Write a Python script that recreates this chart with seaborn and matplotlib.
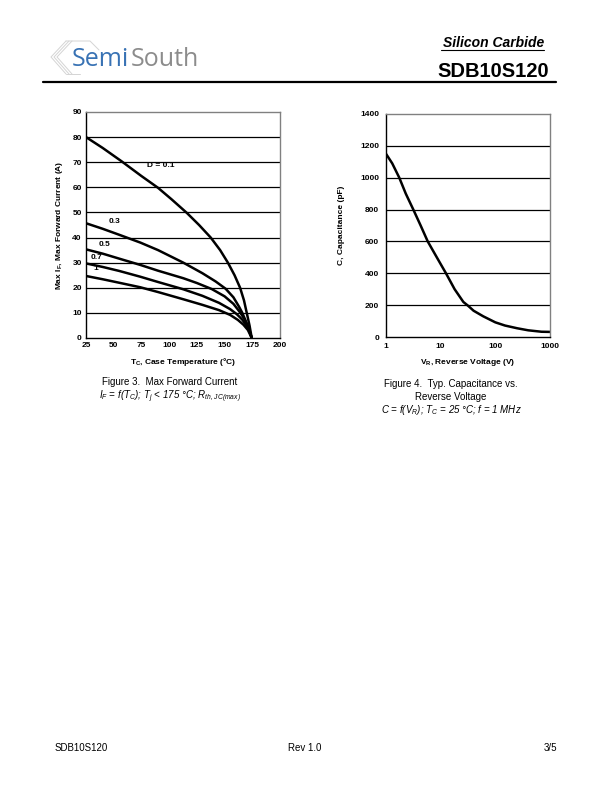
import numpy as np
import pandas as pd
import matplotlib
matplotlib.use("Agg")
import matplotlib.pyplot as plt
from matplotlib.lines import Line2D
import seaborn as sns

sns.set_style("white")
plt.rcParams['font.family'] = ['Liberation Sans', 'DejaVu Sans']
plt.rcParams['mathtext.default'] = 'regular'
plt.rcParams['text.color'] = 'black'
plt.rcParams['axes.labelcolor'] = 'black'
plt.rcParams['xtick.color'] = 'black'
plt.rcParams['ytick.color'] = 'black'

# Figure 3 data: max forward current vs case temperature, per duty cycle
t_d01 = [25, 40, 57, 75, 90, 102, 116, 127, 137.5, 146, 153, 159, 164, 167.5, 170, 172.5, 174.5]
i_d01 = [80, 75.7, 70.4, 64.5, 59.8, 55.3, 49.8, 45, 40, 35, 30, 25, 20, 15, 10, 5, 0]
t_d03 = [25, 40, 55, 74, 90, 112.8, 130, 142, 151, 158, 163, 166, 170, 174.5]
i_d03 = [45.7, 43.5, 41.1, 38, 35, 30, 25.8, 22.5, 19.6, 16.2, 12.5, 10, 5.8, 0]
t_d05 = [25, 40, 55, 74, 90, 112.8, 125, 138.4, 150, 158, 164, 168, 171.5, 174.5]
i_d05 = [35.3, 33.6, 31.6, 29.1, 26.8, 23.8, 21.9, 19.5, 16.6, 13.6, 10.2, 7.5, 4.3, 0]
t_d07 = [25, 40, 55, 74, 90, 112.8, 130, 145, 155, 161, 166, 170, 172.5, 174.5]
i_d07 = [29.7, 28.3, 26.7, 24.4, 22.3, 19.4, 16.8, 14, 11.5, 9.5, 7.3, 4.8, 2.8, 0]
t_d1 = [25, 40, 55, 74, 90, 113, 130, 145, 155, 162, 167, 171, 174.5]
i_d1 = [24.7, 23.4, 22, 20.2, 18.3, 15.4, 13.2, 11.1, 9.2, 7.2, 5.3, 3.2, 0]
duty_labels = ["D = 0.1", "0.3", "0.5", "0.7", "1"]

# Figure 4 data: capacitance vs reverse voltage
v_r = [1, 1.3, 1.75, 2.3, 3.16, 4.3, 5.8, 8.5, 12.5, 18, 26, 32, 40, 60, 100, 150, 250, 400, 700, 1000]
cap = [1150, 1090, 1000, 900, 800, 700, 600, 500, 400, 300, 220, 195, 165, 130, 92, 72, 55, 42, 33, 32]

fig = plt.figure(figsize=(6.12, 7.92), dpi=100)
W, H = 612, 792

def fx(px):
    return px / W

def fy(py):
    return 1 - py / H

# ---- header / logo ----
chev = '#d4d4d4'
for off in [0, 3, 6]:
    fig.add_artist(Line2D([fx(66 + off), fx(51 + off), fx(66 + off)],
                          [fy(41), fy(57), fy(74)], color=chev, lw=0.7))
fig.add_artist(Line2D([fx(66), fx(90), fx(99)], [fy(41), fy(41), fy(50)], color=chev, lw=0.7))
fig.add_artist(Line2D([fx(66), fx(80)], [fy(74), fy(74)], color=chev, lw=0.7))
renderer = fig.canvas.get_renderer()
semi = fig.text(fx(72), fy(66), "Semi", fontsize=18, color='#3872b4', family='Open Sans')
bb = semi.get_window_extent(renderer=renderer)
fig.text(bb.x1 / W + fx(1), fy(66), "South", fontsize=18, color='#8c8c8c', family='Open Sans')

fig.text(fx(544), fy(47), "Silicon Carbide", fontsize=10, fontweight='bold',
         style='italic', ha='right')
fig.add_artist(Line2D([fx(441), fx(544)], [fy(50), fy(50)], color='black', lw=0.8))
fig.text(fx(549), fy(77), "SDB10S120", fontsize=14.5, fontweight='bold', ha='right')
fig.add_artist(Line2D([fx(43), fx(556)], [fy(82), fy(82)], color='black', lw=1.6))

# ---- Figure 3 ----
ax1 = fig.add_axes([fx(86), fy(338), fx(280) - fx(86), fy(112) - fy(338)])
curves = [(t_d01, i_d01), (t_d03, i_d03), (t_d05, i_d05), (t_d07, i_d07), (t_d1, i_d1)]
for t, i in curves:
    df = pd.DataFrame({'T': t, 'I': i})
    sns.lineplot(data=df, x='T', y='I', ax=ax1, color='black', lw=1.8, sort=False)
ax1.set_xlim(25, 200)
ax1.set_ylim(0, 90)
ax1.set_xticks(np.arange(25, 201, 25))
ax1.set_yticks(np.arange(0, 91, 10))
for y in range(10, 90, 10):
    ax1.axhline(y, color='black', lw=0.9, zorder=0)
label_pos = [(80, 68.5), (45.7, 46.4), (36.7, 37.2), (29.5, 32), (31.3, 27.7)]
for lab, (x, y) in zip(duty_labels, label_pos):
    ax1.text(x, y, lab, fontsize=6, fontweight='bold', va='center')
ax1.set_xlabel("T$_C$, Case Temperature (°C)", fontsize=6, fontweight='bold', labelpad=5)
ax1.set_ylabel("Max I$_F$, Max Forward Current (A)", fontsize=6, fontweight='bold', labelpad=5)

# ---- Figure 4 ----
ax2 = fig.add_axes([fx(386), fy(337), fx(550) - fx(386), fy(114) - fy(337)])
df2 = pd.DataFrame({'V': v_r, 'C': cap})
sns.lineplot(data=df2, x='V', y='C', ax=ax2, color='black', lw=1.8)
ax2.set_xscale('log')
ax2.set_xlim(1, 1000)
ax2.set_ylim(0, 1400)
ax2.set_xticks([1, 10, 100, 1000])
ax2.set_xticklabels(['1', '10', '100', '1000'])
ax2.set_yticks(np.arange(0, 1401, 200))
for y in range(200, 1400, 200):
    ax2.axhline(y, color='black', lw=0.9, zorder=0)
ax2.set_xlabel("V$_R$, Reverse Voltage (V)", fontsize=6, fontweight='bold', labelpad=5)
ax2.set_ylabel("C, Capacitance (pF)", fontsize=6, fontweight='bold', labelpad=11)

for ax in (ax1, ax2):
    for s in ax.spines.values():
        s.set_color('#808080')
        s.set_linewidth(1.0)
    ax.spines['left'].set_color('black')
    ax.spines['bottom'].set_color('black')
    ax.tick_params(axis='both', which='major', labelsize=6, length=0, pad=3)
    for lbl in ax.get_xticklabels() + ax.get_yticklabels():
        lbl.set_fontweight('bold')
ax2.tick_params(axis='y', which='major', length=3, direction='out', width=0.6, pad=2)
ax2.tick_params(axis='x', which='major', length=3, direction='inout', width=0.6, pad=3)
ax2.tick_params(axis='x', which='minor', length=3, direction='inout', width=0.6)

# ---- captions ----
fig.text(fx(170), fy(385), "Figure 3.  Max Forward Current", fontsize=7, ha='center')
fig.text(fx(170), fy(399), "$I_F$ = f($T_C$); $T_j$ < 175 °C; $R_{th,JC(max)}$",
         fontsize=7, ha='center', style='italic')
fig.text(fx(451), fy(387), "Figure 4.  Typ. Capacitance vs.", fontsize=7, ha='center')
fig.text(fx(451), fy(400), "Reverse Voltage", fontsize=7, ha='center')
fig.text(fx(451), fy(413), "C = f($V_R$); $T_C$ = 25 °C; f = 1 MHz",
         fontsize=7, ha='center', style='italic')

# ---- footer ----
fig.text(fx(55), fy(751), "SDB10S120", fontsize=7)
fig.text(fx(305), fy(751), "Rev 1.0", fontsize=7, ha='center')
fig.text(fx(557), fy(751), "3/5", fontsize=7, ha='right')

fig.savefig("out.png", dpi=100)
